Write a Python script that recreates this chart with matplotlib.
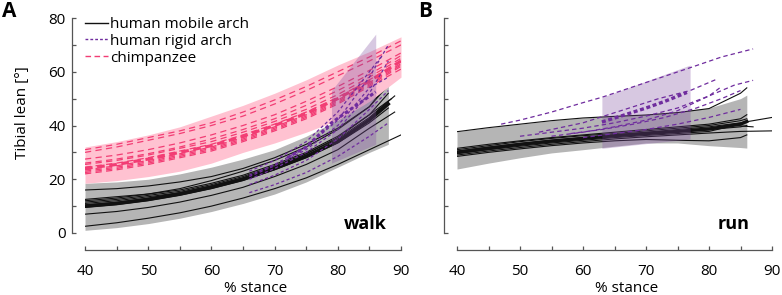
import matplotlib
matplotlib.use("Agg")
from matplotlib import pyplot as plt
from matplotlib.lines import Line2D

plt.rcParams['font.family'] = ['Open Sans', 'DejaVu Sans']

# ---- walk: human mobile arch (black) ----
walk_mobile = [
    ([40, 45, 50, 55, 60, 65, 70, 75, 80, 85, 88], [16, 16.5, 17.5, 19, 21, 24, 28, 33, 39, 47, 55]),
    ([40, 45, 50, 55, 60, 65, 70, 75, 80, 85, 88], [12.5, 13.5, 14.5, 16, 18.5, 21.5, 25.5, 30, 36, 44, 52]),
    ([40, 45, 50, 55, 60, 65, 70, 75, 80, 85, 89], [11.5, 12.5, 14, 15.5, 18, 21, 25, 29.5, 35, 43, 51]),
    ([40, 45, 50, 55, 60, 65, 70, 75, 80, 85, 88], [10.5, 11.5, 13, 15, 17.5, 20.5, 24.5, 29, 34.5, 42.5, 49]),
    ([40, 45, 50, 55, 60, 65, 70, 75, 80, 85, 88], [9.5, 10.5, 12, 14, 16.5, 19.5, 23.5, 28, 33.5, 41, 46.5]),
    ([40, 45, 50, 55, 60, 65, 70, 75, 80, 85, 88.5], [11, 12, 13.5, 15, 17.5, 20.5, 24.5, 29.5, 35.5, 44, 50]),
    ([40, 45, 50, 55, 60, 65, 70, 75, 80, 85, 89], [7, 8, 9.5, 11.5, 14, 17, 21, 25.5, 31, 39, 45]),
    ([40, 45, 50, 55, 60, 65, 70, 75, 80, 85, 90], [2.5, 3.8, 5.5, 7.5, 10, 13, 16.5, 20.5, 25.5, 31, 36.5]),
    ([40, 45, 50, 55, 60, 65, 70, 75, 80, 85, 87], [12, 13, 14.5, 16.5, 19.5, 23, 27, 32, 38.5, 47, 53]),
]
walk_mobile_mean = ([40, 45, 50, 55, 60, 65, 70, 75, 80, 85, 88],
                    [10, 11, 12.5, 14.5, 17, 20, 24, 28.5, 34, 42, 48])
walk_mobile_band_x = [40, 45, 50, 55, 60, 65, 70, 75, 80, 85, 88]
walk_mobile_band_hi = [18.5, 19, 20, 22, 24.5, 27.5, 31, 36, 42, 51, 57]
walk_mobile_band_lo = [1, 2, 3.5, 5.5, 8, 11, 14.5, 19, 24.5, 30, 33]

# ---- walk: chimpanzee (pink dashed) ----
chimp_x = [40, 45, 50, 55, 60, 65, 70, 75, 80, 85, 90]
walk_chimp = [
    [31, 33, 35.5, 38, 41, 45, 49.5, 54.5, 60, 65.5, 71.5],
    [30, 32, 34.5, 37, 40, 43.5, 48, 53, 58.5, 64, 70],
    [27.5, 29, 31, 33.5, 36.5, 40, 44, 49, 54.5, 60.5, 67],
    [26, 27.5, 29.5, 32, 35, 38.5, 42.5, 47.5, 53, 59, 66],
    [25.5, 27, 29, 31.5, 34, 37.5, 41.5, 46, 51.5, 58, 65],
    [24.5, 26, 28, 30.5, 33, 36.5, 40.5, 45, 50.5, 57, 64],
    [23.5, 25, 27, 29.5, 32, 35.5, 39.5, 44, 49.5, 56, 63],
    [23, 24.5, 26.5, 29, 31.5, 35, 39, 43.5, 49, 55.5, 62.5],
    [22.5, 24, 26, 28.5, 31, 34.5, 38.5, 43, 48.5, 55, 62],
    [22, 23.5, 25.5, 28, 30.5, 34, 38, 42.5, 48, 54.5, 61],
]
walk_chimp_mean = [24, 25.5, 27.5, 30, 32.5, 36, 40, 44.5, 50, 56.5, 64]
walk_chimp_band_hi = [32, 34, 36.5, 39.5, 43.5, 47.5, 52, 57, 62.5, 67.5, 73]
walk_chimp_band_lo = [18.5, 19.5, 21, 23, 26, 30, 33.5, 37.5, 42, 49, 58]

# ---- walk: human rigid arch (purple dotted) ----
walk_rigid = [
    ([66, 70, 75, 80, 85, 88], [20, 24, 30, 38.5, 52, 64]),
    ([66, 70, 75, 80, 85, 88], [21.5, 25.5, 32, 42, 58, 70]),
    ([66, 70, 75, 80, 85, 88], [18, 21.5, 27, 35, 46, 53]),
    ([66, 70, 75, 80, 85, 87], [23, 27, 34, 45, 60, 66]),
    ([66, 70, 75, 80, 85, 88], [15, 18, 22.5, 28.5, 36, 41]),
    ([66, 70, 75, 80, 85, 88], [21, 25, 31, 40, 54, 58]),
]
walk_rigid_mean = ([72, 75, 79, 82, 86], [28, 32, 41, 46, 52.5])
walk_rigid_band_x = [79, 86]
walk_rigid_band_hi = [53, 74]
walk_rigid_band_lo = [26, 33]

# ---- run: human mobile arch (black) ----
run_mobile = [
    ([40, 45, 50, 55, 60, 65, 70, 75, 80, 85, 86], [37.7, 39.2, 40.5, 41.8, 42.8, 43.4, 43.9, 44.8, 46.3, 52, 54]),
    ([40, 45, 50, 55, 60, 65, 70, 75, 80, 85, 86], [31.5, 33, 34.3, 35.5, 36.5, 37.5, 38.5, 39.5, 40.5, 42.5, 44]),
    ([40, 45, 50, 55, 60, 65, 70, 75, 80, 85, 90], [30.5, 32, 33.3, 34.5, 35.5, 36.5, 37.5, 38.5, 39.5, 41, 43]),
    ([40, 45, 50, 55, 60, 65, 70, 75, 80, 85, 86], [30, 31.5, 32.8, 34, 35, 36, 37, 37.8, 38.5, 39.5, 40]),
    ([40, 45, 50, 55, 60, 65, 70, 75, 80, 84, 87], [29.5, 31, 32.3, 33.5, 34.5, 35.5, 36.3, 37, 37.8, 40, 39.5]),
    ([40, 45, 50, 55, 60, 65, 70, 75, 80, 85, 90], [29, 30.5, 31.8, 33, 34, 35, 35.8, 36.5, 37.2, 37.8, 38]),
    ([40, 45, 50, 55, 60, 65, 70, 75, 80, 85, 86], [28.5, 30, 31.3, 32.5, 33.5, 34.3, 34.8, 34.5, 34.3, 35.5, 36.5]),
    ([40, 45, 50, 55, 60, 65, 70, 75, 80, 85, 86], [31, 32.5, 34, 35.2, 36.2, 37, 38, 39, 40, 41.8, 42.5]),
]
run_mobile_mean = ([40, 45, 50, 55, 60, 65, 70, 75, 80, 85, 86],
                   [30, 31.5, 33, 34.2, 35.2, 36.2, 37, 37.8, 38.7, 40.5, 41.5])
run_mobile_band_x = [40, 45, 50, 55, 60, 65, 70, 75, 80, 85, 86]
run_mobile_band_hi = [37.7, 39.2, 40.5, 41.8, 42.8, 43.6, 44.2, 45, 46.5, 50, 51.3]
run_mobile_band_lo = [23.8, 26, 28, 29.8, 31, 32.3, 33.5, 33.5, 32.5, 31.8, 31.6]

# ---- run: human rigid arch (purple dashed) ----
run_rigid = [
    ([47, 50, 55, 60, 63, 70, 77, 82, 87], [40.5, 42, 45, 48.5, 50.5, 56, 61.5, 65.5, 68.5]),
    ([53, 60, 66, 72, 77, 81], [37.5, 41, 45.5, 50, 53, 57]),
    ([50, 55, 60, 65, 70, 75, 80, 84, 87], [36, 37.5, 39, 41, 43.5, 46.5, 51, 55, 56.8]),
    ([55, 60, 65, 70, 75, 80, 82], [36, 37.5, 39.5, 42, 45.5, 51, 54.5]),
    ([58, 63, 68, 73, 78, 82, 85], [37, 38.5, 40.5, 43, 46.5, 50, 53]),
    ([60, 65, 70, 75, 80, 85], [35.5, 37, 38.5, 40.5, 43, 46]),
]
run_rigid_mean = ([63, 66, 70, 73, 76.5], [41.3, 43.5, 46.5, 49, 52.3])
run_rigid_band_x = [63, 77]
run_rigid_band_hi = [50.5, 62.5]
run_rigid_band_lo = [31.5, 35]

BLACK = '#111111'
PURPLE = '#6f2c9e'
PINK = '#f23d74'

fig = plt.figure(figsize=(7.82, 2.95), dpi=100)
axA = fig.add_axes([85/782, 62/295, 316/782, 215/295])
axB = fig.add_axes([457/782, 62/295, 315/782, 215/295])


def style_axis(ax, ylabels):
    ax.set_xlim(40, 90)
    ax.set_ylim(0, 80)
    for s in ['top', 'right']:
        ax.spines[s].set_visible(False)
    ax.spines['left'].set_position(('outward', 9.5))
    ax.spines['bottom'].set_position(('outward', 12.5))
    ax.spines['left'].set_bounds(0, 80)
    for s in ['left', 'bottom']:
        ax.spines[s].set_color('#555555')
        ax.spines[s].set_linewidth(0.9)
    ax.set_xticks(range(40, 91, 10))
    ax.set_xticks(range(45, 90, 10), minor=True)
    ax.set_yticks(range(0, 81, 20))
    ax.set_yticks(range(10, 80, 20), minor=True)
    ax.tick_params(which='both', direction='in', length=3, width=0.9,
                   color='#555555', labelsize=11)
    ax.tick_params(axis='x', pad=9.5)
    ax.tick_params(axis='y', pad=4.5)
    if not ylabels:
        ax.set_yticklabels([])
    ax.set_xlabel('% stance', fontsize=11)
    ax.xaxis.set_label_coords(0.54, -0.222)


style_axis(axA, True)
style_axis(axB, False)
axA.set_ylabel('Tibial lean [°]', fontsize=11)
axA.yaxis.set_label_coords(-0.175, 0.56)

# walk panel
axA.fill_between(walk_mobile_band_x, walk_mobile_band_lo, walk_mobile_band_hi,
                 color='#b5b5b5', lw=0, zorder=1)
for xs, ys in walk_mobile:
    axA.plot(xs, ys, color=BLACK, lw=0.8, zorder=2)
axA.plot(*walk_mobile_mean, color=BLACK, lw=2.4, zorder=2)
axA.fill_between(chimp_x, walk_chimp_band_lo, walk_chimp_band_hi,
                 color='#ffc2d1', lw=0, zorder=3)
for ys in walk_chimp:
    axA.plot(chimp_x, ys, color=PINK, lw=0.9, dashes=(5, 3.5), zorder=4)
axA.plot(chimp_x, walk_chimp_mean, color=PINK, lw=2.2, dashes=(2.5, 1.5), zorder=4)
axA.fill_between(walk_rigid_band_x, walk_rigid_band_lo, walk_rigid_band_hi,
                 color='#7d4a9e', alpha=0.3, lw=0, zorder=5)
for xs, ys in walk_rigid:
    axA.plot(xs, ys, color=PURPLE, lw=0.9, dashes=(2.5, 2), zorder=6)
axA.plot(*walk_rigid_mean, color=PURPLE, lw=2.2, dashes=(1.2, 0.8), zorder=6)

# run panel
axB.fill_between(run_mobile_band_x, run_mobile_band_lo, run_mobile_band_hi,
                 color='#b5b5b5', lw=0, zorder=1)
for xs, ys in run_mobile:
    axB.plot(xs, ys, color=BLACK, lw=0.8, zorder=2)
axB.plot(*run_mobile_mean, color=BLACK, lw=2.4, zorder=2)
axB.fill_between(run_rigid_band_x, run_rigid_band_lo, run_rigid_band_hi,
                 color='#7d4a9e', alpha=0.3, lw=0, zorder=5)
for xs, ys in run_rigid:
    axB.plot(xs, ys, color=PURPLE, lw=0.9, dashes=(3.5, 2.5), zorder=6)
axB.plot(*run_rigid_mean, color=PURPLE, lw=2.4, dashes=(1.2, 0.8), zorder=6)

axA.text(0.955, 0.0, 'walk', transform=axA.transAxes, ha='right', va='bottom',
         fontsize=13, fontweight='bold')
axB.text(0.93, 0.0, 'run', transform=axB.transAxes, ha='right', va='bottom',
         fontsize=13, fontweight='bold')

handles = [Line2D([], [], color=BLACK, lw=1),
           Line2D([], [], color=PURPLE, lw=1, dashes=(2, 1.5)),
           Line2D([], [], color=PINK, lw=1, dashes=(4, 2.5))]
axA.legend(handles, ['human mobile arch', 'human rigid arch', 'chimpanzee'],
           loc='upper left', bbox_to_anchor=(0.0, 1.005), frameon=False,
           fontsize=11, handlelength=1.5, handletextpad=0.15,
           labelspacing=0.12, borderpad=0, borderaxespad=0)

fig.text(0.002, 0.995, 'A', fontsize=15, fontweight='bold', va='top', ha='left')
fig.text(0.535, 0.995, 'B', fontsize=15, fontweight='bold', va='top', ha='left')

fig.savefig('out.png', dpi=100)
